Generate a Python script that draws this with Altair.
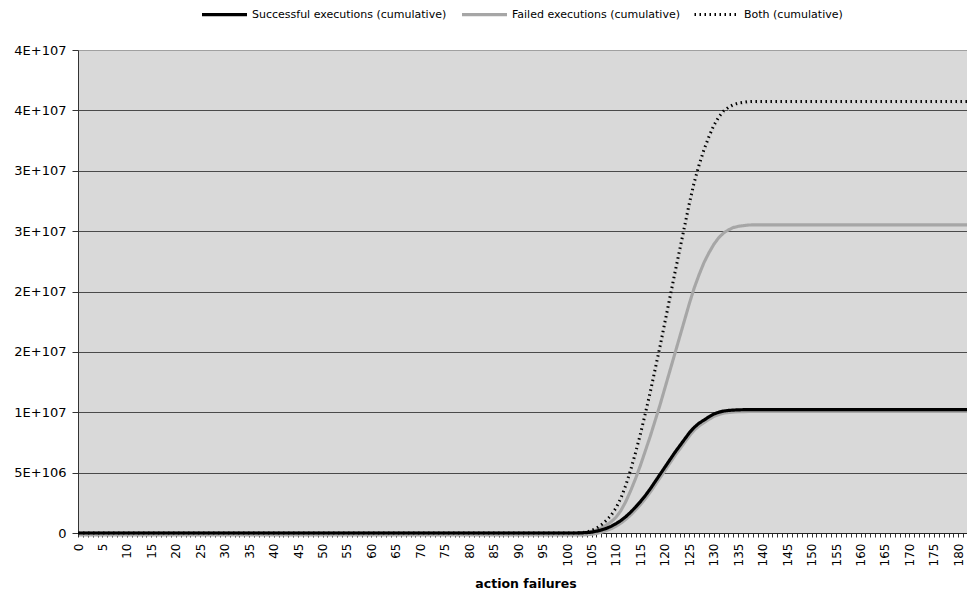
import altair as alt
import pandas as pd

categories = list(range(0, 184))
series_names = [
    "Successful executions (cumulative)",
    "Failed executions (cumulative)",
    "Both (cumulative)",
]

# values in millions (x = 0..183)
success_m = [0.0] * 103 + [
    0.01, 0.03, 0.07, 0.15, 0.25, 0.38, 0.55, 0.77, 1.03, 1.35,
    1.72, 2.15, 2.6, 3.1, 3.65, 4.25, 4.85, 5.45, 6.05, 6.65,
    7.2, 7.75, 8.3, 8.75, 9.1, 9.35, 9.62, 9.85, 10.0, 10.1,
    10.15, 10.18, 10.2, 10.21, 10.22,
] + [10.22] * 46

failed_m = [0.0] * 103 + [
    0.02, 0.06, 0.13, 0.25, 0.42, 0.65, 0.92, 1.3, 1.85, 2.6,
    3.5, 4.5, 5.6, 6.8, 8.0, 9.3, 10.6, 12.0, 13.4, 14.8,
    16.2, 17.6, 19.0, 20.3, 21.4, 22.4, 23.2, 23.9, 24.45, 24.85,
    25.1, 25.3, 25.4, 25.45, 25.5,
] + [25.52] * 46

both_m = [0.0] * 103 + [
    0.03, 0.09, 0.20, 0.40, 0.67, 1.03, 1.47, 2.07, 2.88, 3.95,
    5.22, 6.65, 8.2, 9.9, 11.65, 13.55, 15.45, 17.45, 19.45, 21.45,
    23.4, 25.35, 27.3, 29.05, 30.5, 31.75, 32.82, 33.75, 34.45, 34.95,
    35.25, 35.48, 35.6, 35.66, 35.72,
] + [35.74] * 46

y_ticks = [0, 5e6, 1e7, 1.5e7, 2e7, 2.5e7, 3e7, 3.5e7, 4e7]

rows = []
for name, vals in zip(series_names, [success_m, failed_m, both_m]):
    for c, v in zip(categories, vals):
        rows.append({"series": name, "x": c, "value": v * 1e6})
df = pd.DataFrame(rows)

FONT = "DejaVu Sans"

x_enc = alt.X(
    "x:Q",
    scale=alt.Scale(domain=[0, 183], nice=False, zero=False),
    axis=alt.Axis(
        values=categories,
        format="d",
        labelExpr="datum.value % 5 == 0 ? datum.label : ''",
        labelAngle=270,
        labelOverlap=False,
        labelFlush=False,
        grid=False,
        tickSize=4,
        tickColor="#333333",
        domainColor="#222222",
        labelPadding=6,
        labelFont=FONT,
        labelFontSize=12,
        labelColor="#000000",
        title="action failures",
        titleFont=FONT,
        titleFontSize=12.5,
        titleFontWeight="bold",
        titleColor="#000000",
        titlePadding=12,
    ),
)

y_enc = alt.Y(
    "value:Q",
    scale=alt.Scale(domain=[0, 4e7], nice=False),
    axis=alt.Axis(
        values=y_ticks,
        labelExpr="datum.value == 0 ? '0' : (datum.value < 10000000 ? round(datum.value / 1000000) + 'E+106' : round(datum.value / 10000000) + 'E+107')",
        title=None,
        tickSize=6,
        tickColor="#333333",
        domainColor="#333333",
        labelPadding=6,
        labelFont=FONT,
        labelFontSize=13,
        labelColor="#000000",
        gridColor=alt.condition("datum.value >= 40000000", alt.value("#a0a0a0"), alt.value("#4a4a4a")),
        gridWidth=1,
        gridOpacity=1,
    ),
)

legend = alt.Legend(
    orient="none",
    legendX=122,
    legendY=-60,
    direction="horizontal",
    title=None,
    symbolType="stroke",
    symbolSize=2025,
    labelFont=FONT,
    labelFontSize=11,
    labelColor="#000000",
    labelLimit=400,
    labelOffset=3,
    columnPadding=8,
)

color_enc = alt.Color(
    "series:N",
    scale=alt.Scale(domain=series_names, range=["#000000", "#a6a6a6", "#000000"]),
    legend=legend,
)
dash_enc = alt.StrokeDash(
    "series:N",
    scale=alt.Scale(domain=series_names, range=[[1, 0], [1, 0], [1.5, 3.5]]),
    legend=legend,
)
width_enc = alt.StrokeWidth(
    "series:N",
    scale=alt.Scale(domain=series_names, range=[3.2, 3, 1.0]),
    legend=legend,
)

base = alt.Chart(df)

shadow_s = base.transform_filter(alt.datum.series == series_names[0]).mark_line(
    color="#a8a8a8", strokeWidth=3, xOffset=1, yOffset=2
).encode(x=x_enc, y=y_enc)
shadow_b = base.transform_filter(alt.datum.series == series_names[2]).mark_line(
    color="#c2c2c2", strokeWidth=1.0, strokeDash=[1.5, 3.5], xOffset=1, yOffset=2
).encode(x=x_enc, y=y_enc)

def series_layer(name):
    return base.transform_filter(alt.datum.series == name).mark_line().encode(
        x=x_enc, y=y_enc, color=color_enc, strokeDash=dash_enc, strokeWidth=width_enc
    )

chart = alt.layer(
    shadow_s,
    shadow_b,
    series_layer(series_names[1]),
    series_layer(series_names[0]),
    series_layer(series_names[2]),
).properties(
    width=895,
    height=483,
    background="#ffffff",
    autosize=alt.AutoSizeParams(type="none"),
    padding={"left": 70, "top": 42, "right": -6, "bottom": 58},
).configure_view(
    fill="#d9d9d9", strokeWidth=0
)

chart.save("out.html", embed_options={"renderer": "svg", "actions": False})
